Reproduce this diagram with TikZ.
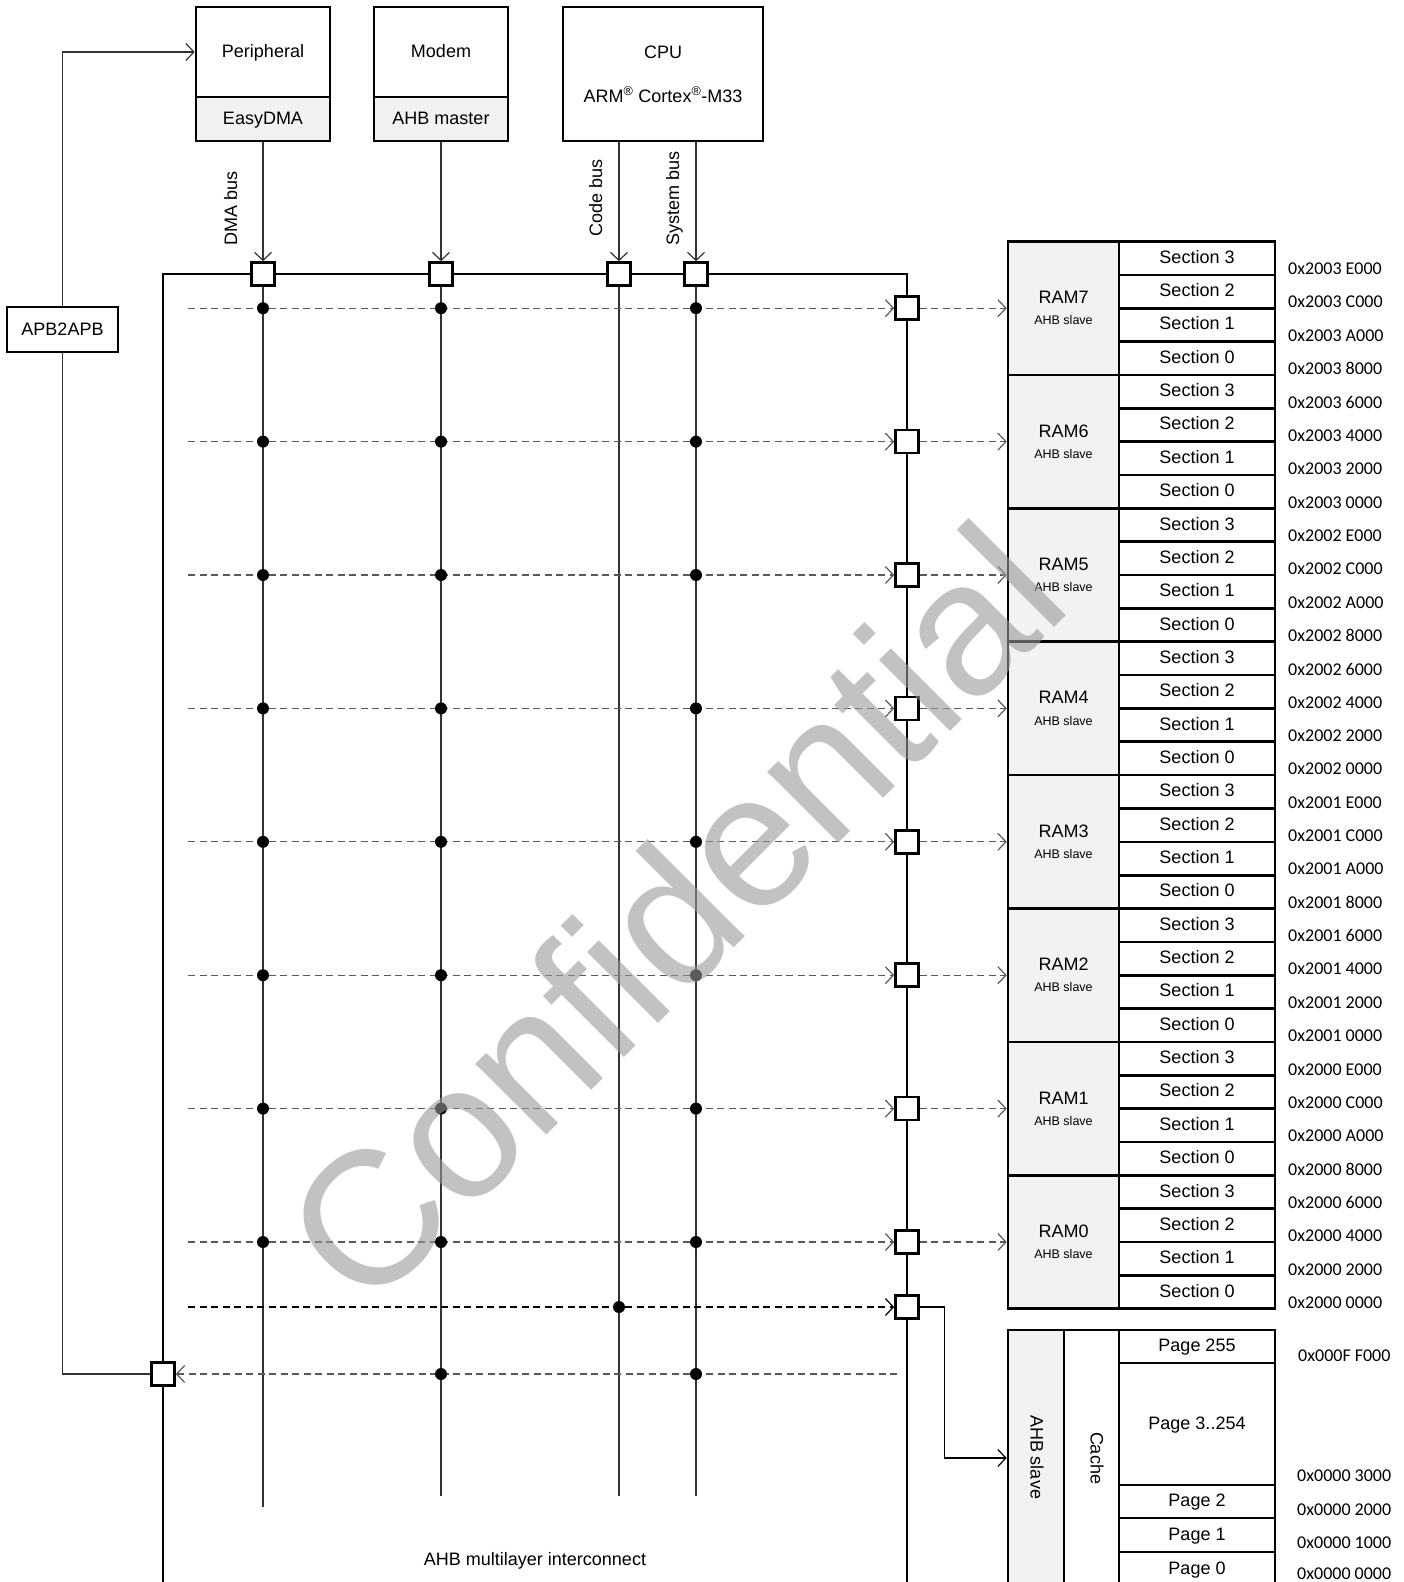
\documentclass[tikz,border=0pt]{standalone}
\usepackage{fontspec}
\setmainfont{Liberation Sans}
\newfontfamily\addrfont{Carlito}
\usetikzlibrary{arrows.meta,positioning}

\begin{document}
\begin{tikzpicture}[
    x=1pt, y=-1pt,
    font=\fontsize{18}{21}\selectfont,
    >={Straight Barb[length=8pt,width=17pt]},
    box/.style={draw, line width=2.6pt, inner sep=0pt},
    lbl/.style={text height=13pt, text depth=3pt},
    port/.style={draw, fill=white, line width=2.6pt, minimum size=23pt, inner sep=0pt},
    bus/.style={line width=1.2pt, black!80},
    req/.style={line width=1.2pt, black!65, dash pattern=on 7pt off 4.5pt},
    junction/.style={circle, fill=black, minimum size=12pt, inner sep=0pt},
    section/.style={box, lbl, minimum width=156pt, minimum height=33.4pt},
    addr/.style={font=\addrfont\fontsize{18}{21}\selectfont, anchor=west, inner sep=0pt}
  ]
  \useasboundingbox (0,0) rectangle (1404,1582);
  \clip (0,0) rectangle (1404,1582);

  % Masters
  \node[box, lbl, minimum width=134pt, minimum height=90pt] (per) at (263,52) {Peripheral};
  \node[box, lbl, fill=black!5, minimum width=134pt, minimum height=44pt] (perdma) at (263,119) {EasyDMA};
  \node[box, lbl, minimum width=134pt, minimum height=90pt] (modem) at (441,52) {Modem};
  \node[box, lbl, fill=black!5, minimum width=134pt, minimum height=44pt] (modemahb) at (441,119) {AHB master};
  \node[box, minimum width=200pt, minimum height=134pt, align=center] (cpu) at (663,74) {CPU\\[23pt]ARM\textsuperscript{\textregistered}~Cortex\textsuperscript{\textregistered}-M33};

  % AHB multilayer interconnect
  \draw[line width=2.6pt] (163,1600) -- (163,274) -- (907,274) -- (907,1600);
  \node (ahbtext) at (535,1561) {AHB multilayer interconnect};

  % Master ports
  \node[port] (pdma) at (263,274) {};
  \node[port] (pmodem) at (441,274) {};
  \node[port] (pcode) at (619,274) {};
  \node[port] (psys) at (696,274) {};

  \draw[bus,->] (perdma) -- (pdma);
  \draw[bus,->] (modemahb) -- (pmodem);
  \draw[bus,->] (pcode |- cpu.south) -- (pcode);
  \draw[bus,->] (psys |- cpu.south) -- (psys);

  \node[rotate=90, anchor=base west, inner sep=0pt] at (237,246) {DMA bus};
  \node[rotate=90, anchor=base west, inner sep=0pt] at (602,237) {Code bus};
  \node[rotate=90, anchor=base west, inner sep=0pt] at (679,246) {System bus};

  \coordinate (dmaend) at (263,1507);
  \coordinate (modemend) at (441,1496);
  \coordinate (codeend) at (619,1496);
  \coordinate (sysend) at (696,1496);
  \draw[bus] (pdma) -- (dmaend);
  \draw[bus] (pmodem) -- (modemend);
  \draw[bus] (pcode) -- (codeend);
  \draw[bus] (psys) -- (sysend);

  % RAM blocks with sections
  \foreach \r/\pre/\sa/\sb/\sc/\sd in {7/2003/E/C/A/8, 6/2003/6/4/2/0, 5/2002/E/C/A/8, 4/2002/6/4/2/0,
                                        3/2001/E/C/A/8, 2/2001/6/4/2/0, 1/2000/E/C/A/8, 0/2000/6/4/2/0} {
    \pgfmathsetmacro{\ramtop}{241.5+(7-\r)*133.4}
    \node[box, fill=black!5, minimum width=111pt, minimum height=133.4pt] (ram\r) at (1063.5,\ramtop+66.7) {};
    \node at (1063.5,\ramtop+56) {RAM\r};
    \node[font=\fontsize{12.5}{14}\selectfont] at (1063.5,\ramtop+79) {AHB slave};
    \foreach \s/\d [count=\i from 0] in {3/\sa, 2/\sb, 1/\sc, 0/\sd} {
      \node[section] (sec\r\s) at (1197,\ramtop+16.7+\i*33.35) {Section \s};
      \node[addr] at (1288,\ramtop+27.35+\i*33.35) {0x\pre\ \d000};
    }
    % slave port, request line and junctions
    \node[port] (p\r) at (907,\ramtop+66.7) {};
    \coordinate (s\r) at (188,\ramtop+66.7);
    \draw[req,->] (s\r) -- (p\r);
    \draw[req,->] (p\r) -- (ram\r);
    \foreach \b in {pdma,pmodem,psys}
      \node[junction] at (\b |- p\r) {};
  }

  % Flash
  \node[port] (pflash) at (907,1307) {};
  \coordinate (sflash) at (188,1307);
  \draw[line width=1.2pt, dash pattern=on 7pt off 4.5pt, ->] (sflash) -- (pflash);
  \node[junction] at (pcode |- pflash) {};
  \node[box, fill=black!5, minimum width=56pt, minimum height=256pt] (fahb) at (1036,1458) {};
  \node[box, minimum width=55pt, minimum height=256pt] (fcache) at (1091.5,1458) {};
  \node[rotate=-90] at (1037,1457) {AHB slave};
  \node[rotate=-90] at (1097,1458) {Cache};
  \node[box, lbl, minimum width=156pt, minimum height=33pt] (page255) at (1197,1346.5) {Page 255};
  \node[box, lbl, minimum width=156pt, minimum height=122pt] (page3) at (1197,1424) {Page 3..254};
  \node[box, lbl, minimum width=156pt, minimum height=33pt] (page2) at (1197,1501.5) {Page 2};
  \node[box, lbl, minimum width=156pt, minimum height=34pt] (page1) at (1197,1535) {Page 1};
  \node[box, lbl, minimum width=156pt, minimum height=34pt] (page0) at (1197,1569) {Page 0};
  \node[addr] at (1298,1356) {0x000F F000};
  \node[addr] at (1297,1476) {0x0000 3000};
  \node[addr] at (1297,1510) {0x0000 2000};
  \node[addr] at (1297,1543) {0x0000 1000};
  \node[addr] at (1297,1574) {0x0000 0000};
  \draw[line width=1.2pt, ->] (pflash.east) -- ++(25,0) |- (fahb.west);

  % APB bridge
  \node[port] (papb) at (163,1374) {};
  \coordinate (sapb) at (897,1374);
  \draw[req,->] (sapb) -- (papb);
  \foreach \b in {pmodem,psys}
    \node[junction] at (\b |- papb) {};
  \node[draw, line width=1.8pt, minimum width=111pt, minimum height=45pt, inner sep=0pt] (apb) at (62.5,329.5) {APB2APB};
  \draw[bus] (papb.west) -| (apb.south);
  \draw[bus,->] (apb.north) |- (per.west);

  % Watermark
  \node[rotate=45, anchor=base west, inner sep=0pt, text=black!40, opacity=0.6,
        font=\fontsize{190}{190}\selectfont] (mark) at (366,1316) {Confidential};
\end{tikzpicture}
\end{document}
